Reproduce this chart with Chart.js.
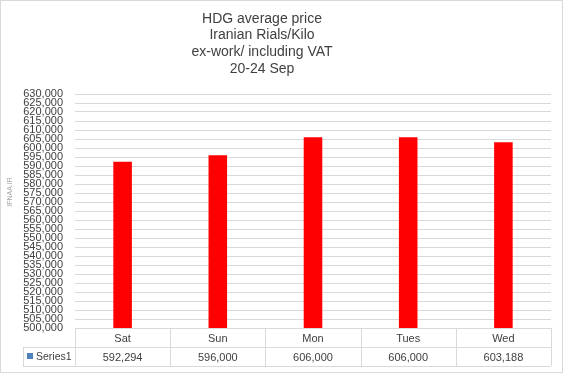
<!DOCTYPE html>
<html>
<head>
<meta charset="utf-8">
<script src="https://cdn.jsdelivr.net/npm/chart.js@4"></script>
<style>
  body { margin: 0; background: #fff; }
  #wrap { width: 565px; height: 380px; }
</style>
</head>
<body>
<div id="wrap"><canvas id="chart" width="565" height="380"></canvas></div>
<script>
// data
var titleLines = ['HDG average price', 'Iranian Rials/Kilo', 'ex-work/ including VAT', '20-24 Sep'];
var categories = ['Sat', 'Sun', 'Mon', 'Tues', 'Wed'];
var series1 = [592294, 596000, 606000, 606000, 603188];
var seriesName = 'Series1';
var yMin = 500000;
var yMax = 630000;
var yStep = 5000;
var watermark = 'IFNAA.IR';

var smallFont = '"Liberation Sans", Arial, sans-serif';
var textColor = '#404040';
var lineColor = '#d9d9d9';

function fmt(v) {
  return v.toLocaleString('en-US');
}

// title, data table under the plot, watermark and outer frame
var tablePlugin = {
  id: 'dataTable',
  afterDraw: function (chart) {
    var ctx = chart.ctx;
    var area = chart.chartArea;
    var xs = chart.scales.x;
    var rowH = 19;
    var top = area.bottom;
    var colW = (area.right - area.left) / categories.length;
    var tableLeft = 23;

    ctx.save();

    // title, centred like the original
    ctx.fillStyle = textColor;
    ctx.font = '14px "Liberation Sans", Arial, sans-serif';
    ctx.textAlign = 'center';
    ctx.textBaseline = 'middle';
    for (var t = 0; t < titleLines.length; t++) {
      ctx.fillText(titleLines[t], 262, 19 + t * 16.6);
    }

    ctx.strokeStyle = lineColor;
    ctx.lineWidth = 1;
    ctx.beginPath();
    // horizontal lines
    ctx.moveTo(area.left, top + 0.5); ctx.lineTo(area.right, top + 0.5);
    ctx.moveTo(tableLeft, top + rowH + 0.5); ctx.lineTo(area.right, top + rowH + 0.5);
    ctx.moveTo(tableLeft, top + 2 * rowH + 0.5); ctx.lineTo(area.right, top + 2 * rowH + 0.5);
    // vertical lines
    for (var i = 0; i <= categories.length; i++) {
      var x = Math.round(area.left + i * colW) + 0.5;
      ctx.moveTo(x, top); ctx.lineTo(x, top + 2 * rowH);
    }
    ctx.moveTo(tableLeft + 0.5, top + rowH); ctx.lineTo(tableLeft + 0.5, top + 2 * rowH);
    ctx.stroke();

    // texts
    ctx.fillStyle = textColor;
    ctx.font = '11px ' + smallFont;
    for (var j = 0; j < categories.length; j++) {
      var cx = xs.getPixelForValue(j);
      ctx.fillText(categories[j], cx, top + rowH / 2 + 1);
      ctx.fillText(fmt(series1[j]), cx, top + rowH * 1.5 + 1);
    }

    // legend key
    ctx.fillStyle = '#4f81bd';
    ctx.fillRect(27, top + rowH + 6, 6, 6);
    ctx.fillStyle = textColor;
    ctx.textAlign = 'left';
    ctx.font = '10.5px ' + smallFont;
    ctx.fillText(seriesName, 36, top + rowH * 1.5 + 1);

    // watermark
    ctx.save();
    ctx.translate(10, 192);
    ctx.rotate(-Math.PI / 2);
    ctx.fillStyle = '#a6a6a6';
    ctx.font = '7px "Liberation Sans", sans-serif';
    ctx.textAlign = 'center';
    ctx.fillText(watermark, 0, 0);
    ctx.restore();

    // outer frame
    ctx.strokeStyle = lineColor;
    ctx.strokeRect(0.5, 0.5, 562, 372);
    ctx.restore();
  }
};

var chart = new Chart(document.getElementById('chart'), {
  type: 'bar',
  data: {
    labels: categories,
    datasets: [{
      label: seriesName,
      data: series1,
      backgroundColor: '#ff0000',
      barPercentage: 0.195,
      categoryPercentage: 1
    }]
  },
  options: {
    responsive: false,
    animation: false,
    devicePixelRatio: 1,
    layout: {
      padding: { left: 0, right: 14, top: 94, bottom: 52 }
    },
    plugins: {
      legend: { display: false },
      tooltip: { enabled: false },
      title: { display: false }
    },
    scales: {
      x: {
        display: false
      },
      y: {
        min: yMin,
        max: yMax,
        border: { display: false },
        grid: { color: lineColor, drawTicks: false },
        ticks: {
          stepSize: yStep,
          autoSkip: false,
          padding: 12,
          color: textColor,
          font: { family: smallFont, size: 11 },
          callback: function (v) { return fmt(v); }
        },
        afterFit: function (scale) { scale.width = 75; }
      }
    }
  },
  plugins: [tablePlugin]
});
</script>
</body>
</html>
